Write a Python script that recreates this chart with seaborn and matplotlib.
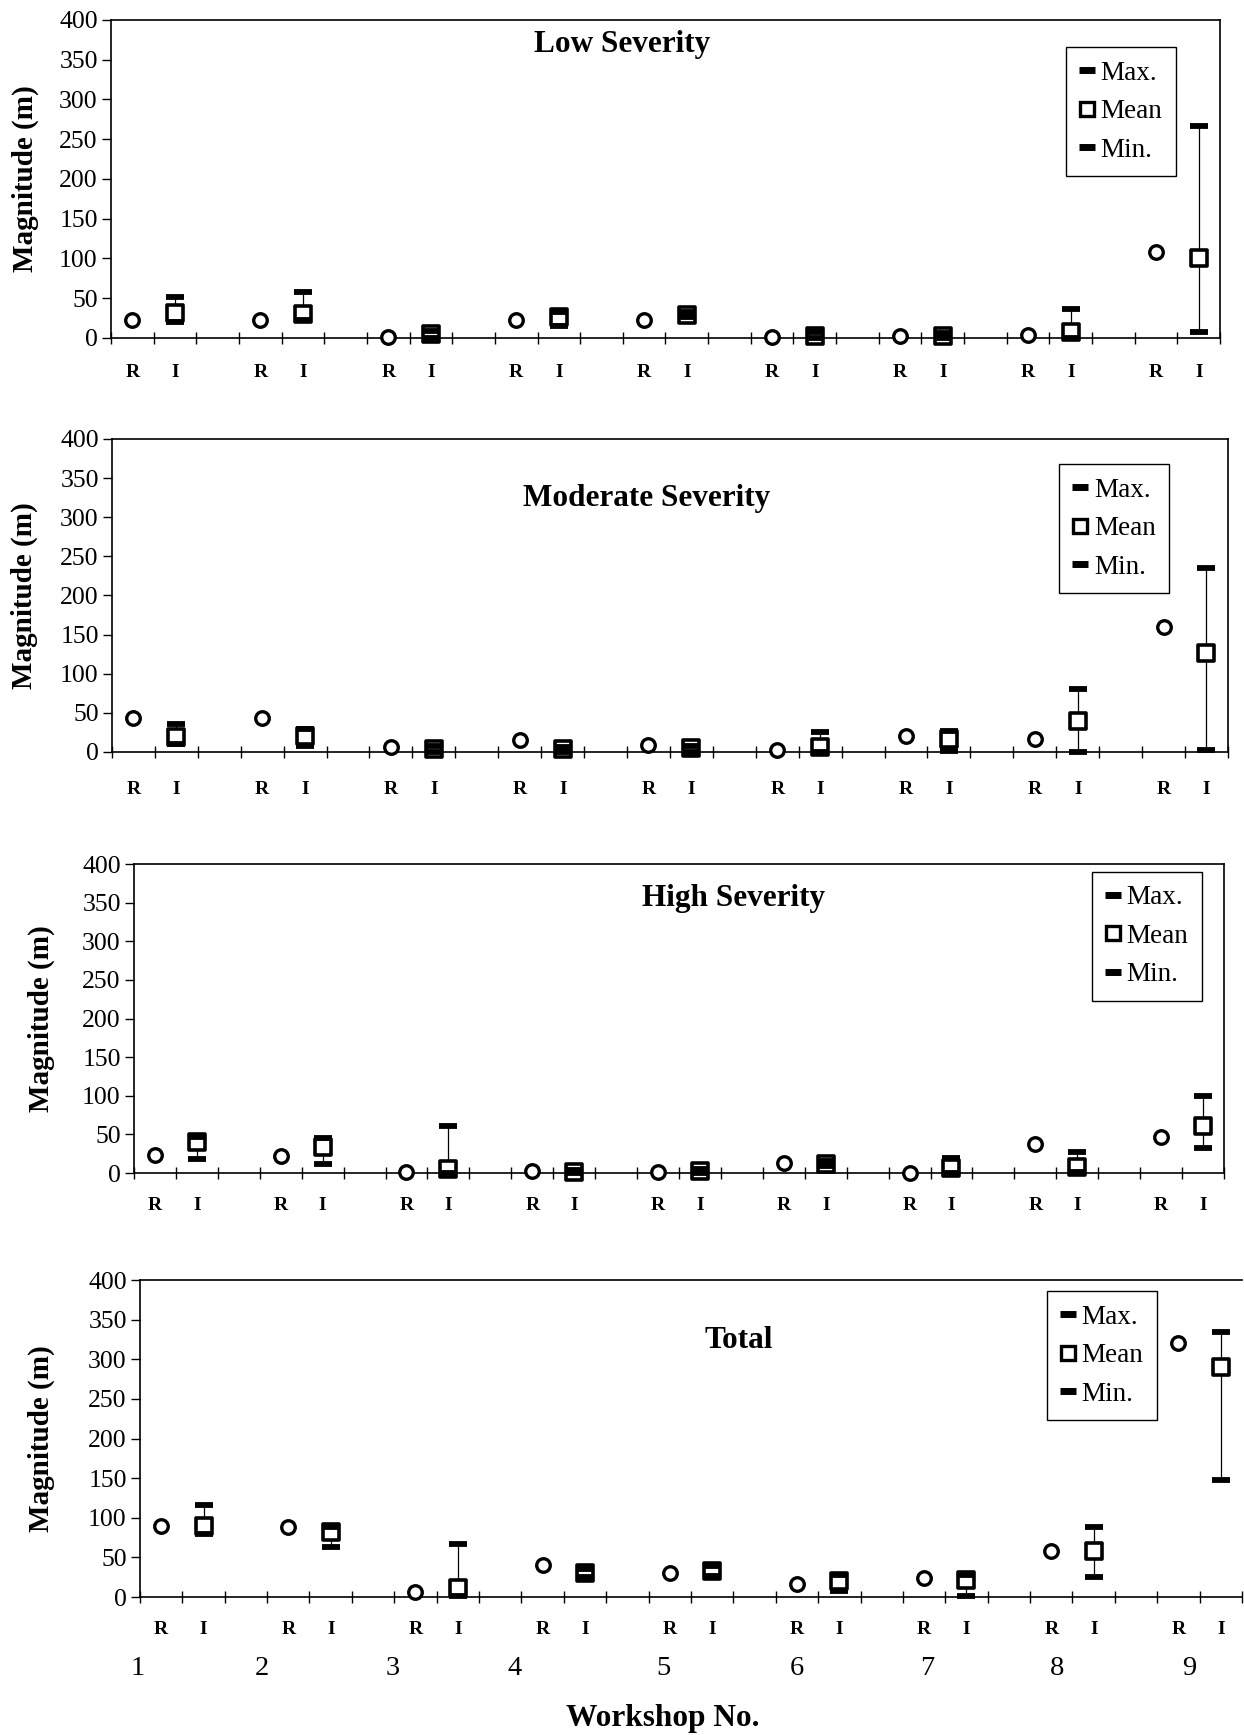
import matplotlib
matplotlib.use("Agg")
import matplotlib.pyplot as plt
import pandas as pd
import seaborn as sns
from matplotlib.lines import Line2D
from matplotlib.ticker import FixedLocator, NullFormatter

# ---- data ----
WORKSHOPS = [1, 2, 3, 4, 5, 6, 7, 8, 9]
TITLES = ["Low Severity", "Moderate Severity", "High Severity", "Total"]

# R = single value (circle), I = mean with max / min
LOW_R = [22, 22, 1, 22, 23, 1, 3, 4, 108]
LOW_I_MEAN = [32, 30, 5, 27, 29, 3, 3, 8, 100]
LOW_I_MAX = [51, 58, 9, 33, 33, 7, 6, 37, 267]
LOW_I_MIN = [20, 22, 0, 15, 26, 0, 0, 0, 8]

MOD_R = [43, 44, 6, 15, 9, 2, 20, 16, 160]
MOD_I_MEAN = [19, 21, 4, 4, 5, 6, 16, 40, 126]
MOD_I_MAX = [36, 29, 8, 6, 8, 26, 27, 80, 235]
MOD_I_MIN = [10, 8, 0, 0, 0, 0, 1, 0, 2]

HIGH_R = [23, 22, 1, 2, 1, 13, 0, 37, 47]
HIGH_I_MEAN = [40, 34, 5, 1, 2, 12, 6, 8, 61]
HIGH_I_MAX = [47, 45, 61, 4, 5, 15, 19, 27, 100]
HIGH_I_MIN = [18, 12, 0, 0, 0, 9, 0, 1, 32]

TOT_R = [90, 88, 6, 40, 31, 17, 24, 58, 320]
TOT_I_MEAN = [90, 82, 11, 31, 33, 20, 22, 58, 290]
TOT_I_MAX = [116, 88, 67, 36, 39, 28, 28, 89, 335]
TOT_I_MIN = [80, 63, 1, 25, 27, 8, 1, 25, 148]

SERIES = [
    (LOW_R, LOW_I_MEAN, LOW_I_MAX, LOW_I_MIN),
    (MOD_R, MOD_I_MEAN, MOD_I_MAX, MOD_I_MIN),
    (HIGH_R, HIGH_I_MEAN, HIGH_I_MAX, HIGH_I_MIN),
    (TOT_R, TOT_I_MEAN, TOT_I_MAX, TOT_I_MIN),
]

# ---- layout ----
AX_RECTS = [
    [0.0892, 0.8052, 0.8915, 0.1833],
    [0.0900, 0.5666, 0.8971, 0.1804],
    [0.1077, 0.3239, 0.8762, 0.1781],
    [0.1125, 0.0795, 0.8859, 0.1827],
]
TITLE_POS = [(0.461, 0.924), (0.479, 0.81), (0.55, 0.89), (0.543, 0.81)]
LEGEND_POS = [(0.861, 0.915), (0.849, 0.92), (0.879, 0.975), (0.823, 0.965)]
YLABEL_X = [-0.065, -0.066, -0.072, -0.077]
RI_PAD = [19, 21, 17.5, 17]
WS_LABEL_X = [-0.05, 2.88, 5.96, 8.84, 12.36, 15.5, 18.57, 21.63, 24.76]

sns.set_style("ticks", {"axes.edgecolor": "black", "xtick.color": "black",
                        "ytick.color": "black", "text.color": "black",
                        "axes.labelcolor": "black"})
plt.rcParams["font.family"] = ["Liberation Serif", "DejaVu Serif"]
plt.rcParams["axes.linewidth"] = 1.2


def draw_panel(ax, i):
    r, mean, vmax, vmin = SERIES[i]
    df = pd.DataFrame({"workshop": WORKSHOPS, "R": r, "mean": mean,
                       "max": vmax, "min": vmin})
    df["xr"] = (df["workshop"] - 1) * 3 + 0.5
    df["xi"] = df["xr"] + 1

    # min-max range line, then mean square, then the max/min dashes
    ax.vlines(df["xi"], df["min"], df["max"], color="black", lw=0.9,
              zorder=2, clip_on=False)
    sns.scatterplot(data=df, x="xr", y="R", marker="o", s=95, color="white",
                    edgecolor="black", linewidth=2.4, ax=ax, zorder=3,
                    clip_on=False, legend=False)
    sns.scatterplot(data=df, x="xi", y="mean", marker="s", s=125, color="white",
                    edgecolor="black", linewidth=2.6, ax=ax, zorder=3,
                    clip_on=False, legend=False)
    for col in ["max", "min"]:
        sns.scatterplot(data=df, x="xi", y=col, marker="_", s=150, color="black",
                        linewidth=4.2, ax=ax, zorder=4, clip_on=False, legend=False)

    ax.set_xlim(0, 26)
    ax.set_ylim(0, 400)
    ax.set_yticks(range(0, 401, 50))
    ax.tick_params(axis="y", direction="out", length=6.5, width=1, labelsize=18.5, pad=3)

    ax.xaxis.set_major_locator(FixedLocator(range(27)))
    ax.xaxis.set_major_formatter(NullFormatter())
    pos = sorted(list(df["xr"]) + list(df["xi"]))
    lbls = ["R", "I"] * len(WORKSHOPS)
    ax.set_xticks(pos, labels=lbls, minor=True, fontsize=14, fontweight="bold")
    ax.tick_params(axis="x", which="major", direction="inout", length=9, width=1)
    ax.tick_params(axis="x", which="minor", length=0, pad=RI_PAD[i])

    ax.set_xlabel("")
    ax.set_ylabel("Magnitude (m)", fontsize=21, fontweight="bold")
    ax.yaxis.set_label_coords(YLABEL_X[i], 0.5)

    tx, ty = TITLE_POS[i]
    ax.text(tx, ty, TITLES[i], transform=ax.transAxes, ha="center", va="center",
            fontsize=22.5, fontweight="bold")

    handles = [
        Line2D([], [], ls="none", marker="_", ms=11, mew=5, color="black"),
        Line2D([], [], ls="none", marker="s", ms=10, mew=2.4, mfc="white", mec="black"),
        Line2D([], [], ls="none", marker="_", ms=11, mew=5, color="black"),
    ]
    leg = ax.legend(handles, ["Max.", "Mean", "Min."], loc="upper left",
                    bbox_to_anchor=LEGEND_POS[i], frameon=True, fancybox=False,
                    edgecolor="black", framealpha=1, fontsize=19.5,
                    handlelength=0.55, handletextpad=0.22, borderpad=0.5,
                    labelspacing=0.5, borderaxespad=0)
    leg.get_frame().set_linewidth(1)


fig = plt.figure(figsize=(12.44, 17.35), dpi=100)
axes = [fig.add_axes(rect) for rect in AX_RECTS]
for i, ax in enumerate(axes):
    draw_panel(ax, i)

# bottom panel: workshop numbers and x label
bottom = axes[-1]
bottom.spines["right"].set_visible(False)
for w, x in zip(WORKSHOPS, WS_LABEL_X):
    bottom.text(x, -0.224, str(w), transform=bottom.get_xaxis_transform(),
                ha="center", va="center", fontsize=20.5)
fig.text(0.533, 1 - 1718 / 1735, "Workshop No.", ha="center", va="center",
         fontsize=22.5, fontweight="bold")

fig.savefig("out.png", dpi=100)
